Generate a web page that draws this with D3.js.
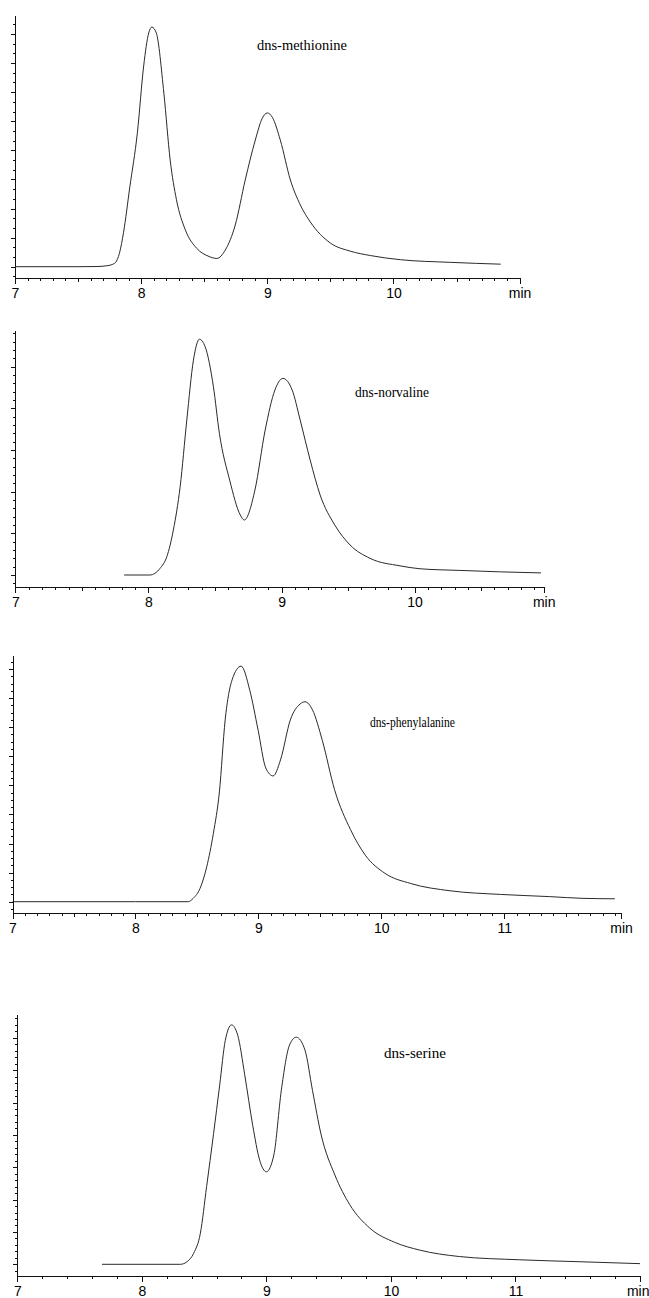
<!DOCTYPE html>
<html>
<head>
<meta charset="utf-8">
<style>
    body { margin: 0; background: #fff; }
    svg { display: block; }
    .axis path, .axis line { stroke: #111; shape-rendering: crispEdges; }
    .axis text { font-family: "Liberation Sans", Arial, sans-serif; font-size: 14px; fill: #000; }
    .trace { fill: none; stroke: #2a2a2a; stroke-width: 1px; }
    .name { font-family: "Liberation Serif", "Times New Roman", serif; font-size: 14px; fill: #000; }
</style>
</head>
<body>
<svg width="649" height="1298"></svg>
<script src="https://d3js.org/d3.v7.min.js"></script>
<script>
// compound names, one per chromatogram
const names = ["dns-methionine", "dns-norvaline", "dns-phenylalanine", "dns-serine"];
// labelled minutes on each time axis, the last tick shows the unit
const xLabels = [[7, 8, 9, 10], [7, 8, 9, 10], [7, 8, 9, 10, 11], [7, 8, 9, 10, 11]];
const unit = "min";

// retention time (min) and detector signal (arbitrary units)
const time1 = [7.0, 7.5, 7.65, 7.73, 7.79, 7.83, 7.86, 7.91, 7.97, 8.02, 8.06, 8.085, 8.12, 8.18, 8.23, 8.28, 8.35, 8.44, 8.53, 8.6, 8.667, 8.746, 8.825, 8.905, 8.96, 9.0, 9.04, 9.103, 9.183, 9.262, 9.341, 9.5, 9.659, 9.817, 10.056, 10.45, 10.85];
const signal1 = [0, 0, 0.02, 0.1, 0.35, 1.5, 3.5, 8.2, 13.8, 20.7, 24.1, 24.7, 24.1, 17.9, 11.0, 6.9, 3.8, 1.9, 1.1, 0.85, 1.72, 4.3, 8.94, 13.06, 15.3, 15.85, 15.4, 13.06, 8.94, 6.36, 4.61, 2.44, 1.6, 1.15, 0.72, 0.45, 0.26];

const time2 = [7.817, 8.01, 8.087, 8.138, 8.187, 8.238, 8.288, 8.338, 8.383, 8.426, 8.488, 8.533, 8.61, 8.69, 8.72, 8.80, 8.877, 8.95, 9.01, 9.08, 9.14, 9.215, 9.29, 9.40, 9.515, 9.665, 9.89, 10.04, 10.34, 10.64, 10.95];
const signal2 = [0, 0, 0.8, 2.2, 5.4, 10.6, 18.6, 25.8, 28.3, 27.4, 22.6, 17.0, 11.4, 7.2, 6.6, 10.2, 17.4, 22.2, 23.6, 22.2, 18.6, 13.8, 9.6, 6.0, 3.6, 2.0, 1.1, 0.75, 0.55, 0.38, 0.25];

const time3 = [7.0, 8.0, 8.43, 8.47, 8.526, 8.58, 8.634, 8.683, 8.73, 8.786, 8.86, 8.93, 8.998, 9.06, 9.12, 9.18, 9.26, 9.34, 9.38, 9.44, 9.52, 9.62, 9.75, 9.87, 10.03, 10.24, 10.56, 10.97, 11.37, 11.64, 11.9];
const signal3 = [0, 0, 0, 0.46, 1.84, 4.8, 9.4, 15.1, 25.0, 30.5, 32.4, 29.1, 23.6, 18.4, 17.3, 19.5, 25.0, 27.2, 27.5, 26.4, 22.2, 15.4, 9.9, 6.4, 3.9, 2.5, 1.5, 1.0, 0.7, 0.46, 0.4];

const time4 = [7.68, 8.31, 8.363, 8.416, 8.47, 8.52, 8.576, 8.625, 8.67, 8.72, 8.77, 8.826, 8.89, 8.946, 9.0, 9.06, 9.12, 9.186, 9.24, 9.31, 9.37, 9.44, 9.55, 9.67, 9.83, 10.03, 10.23, 10.55, 11.03, 11.51, 12.0];
const signal4 = [0, 0, 0.4, 1.7, 4.8, 12.0, 20.2, 27.7, 34.6, 37.0, 35.4, 29.3, 21.5, 16.1, 14.3, 16.9, 26.9, 33.9, 35.1, 33.1, 26.9, 20.0, 13.8, 9.2, 5.6, 3.4, 2.2, 1.2, 0.7, 0.4, 0.1];

const times = [time1, time2, time3, time4];
const signals = [signal1, signal2, signal3, signal4];

// page layout of each panel (pixels)
const layout = [
    { left: 15, right: 519.6, tMax: 11, axisY: 278, top: 15, base: 266.7, px: 9.7, yMajor: 3, xMinor: 0.1, half: true, lx: 257, ly: 50, lw: 90 },
    { left: 15.4, right: 543.7, tMax: 10.97, axisY: 586.7, top: 330, base: 575, px: 8.33, yMajor: 5, xMinor: 0.1, half: true, lx: 355, ly: 397, lw: 74 },
    { left: 12.5, right: 621, tMax: 11.95, axisY: 913, top: 655, base: 901.7, px: 7.27, yMajor: 4, xMinor: 0.1, half: true, lx: 370, ly: 727, lw: 85 },
    { left: 17.3, right: 640, tMax: 12, axisY: 1276, top: 1014, base: 1264.3, px: 6.47, yMajor: 5, xMinor: 0.2, half: false, lx: 384, ly: 1058, lw: 62 }
];

const svg = d3.select("svg");

layout.forEach(function (L, i) {
    let g = svg.append("g");

    let x = d3.scaleLinear().domain([7, L.tMax]).range([L.left, L.right]);
    let lo = -(L.axisY - L.base) / L.px;
    let hi = (L.base - L.top) / L.px;
    let y = d3.scaleLinear().domain([lo, hi]).range([L.axisY, L.top]);

    // x axis: minor, half and labelled ticks
    let minor = d3.range(7, L.tMax - 0.01, L.xMinor).map(v => +v.toFixed(2));
    g.append("g").attr("class", "axis")
        .attr("transform", `translate(0,${L.axisY})`)
        .call(d3.axisBottom(x).tickValues(minor).tickSize(3).tickSizeOuter(0).tickFormat(""));
    if (L.half) {
        g.append("g").attr("class", "axis")
            .attr("transform", `translate(0,${L.axisY})`)
            .call(d3.axisBottom(x).tickValues(xLabels[i].map(v => v + 0.5).filter(v => v < L.tMax)).tickSize(4).tickSizeOuter(0).tickFormat(""))
            .select(".domain").remove();
    }
    let major = xLabels[i].concat([L.tMax]);
    let xa = g.append("g").attr("class", "axis")
        .attr("transform", `translate(0,${L.axisY})`)
        .call(d3.axisBottom(x).tickValues(major).tickSize(6).tickSizeOuter(0).tickPadding(4)
            .tickFormat(d => d === L.tMax ? unit : d));
    xa.select(".domain").remove();
    // keep the unit label inside the page
    xa.selectAll(".tick text")
        .filter(d => d === L.tMax && x(d) + 12 > 649)
        .attr("text-anchor", "end")
        .attr("x", 649 - x(L.tMax));

    // y axis with unlabelled ticks
    let yt = d3.range(Math.ceil(lo), Math.floor(hi) + 1);
    g.append("g").attr("class", "axis")
        .attr("transform", `translate(${L.left},0)`)
        .call(d3.axisLeft(y).tickValues(yt.filter(v => v % L.yMajor !== 0)).tickSize(2).tickSizeOuter(0).tickFormat(""));
    g.append("g").attr("class", "axis")
        .attr("transform", `translate(${L.left},0)`)
        .call(d3.axisLeft(y).tickValues(yt.filter(v => v % L.yMajor === 0)).tickSize(4).tickSizeOuter(0).tickFormat(""))
        .select(".domain").remove();

    // the trace
    let pts = times[i].map((t, k) => [t, signals[i][k]]);
    let line = d3.line()
        .x(d => x(d[0]))
        .y(d => y(d[1]))
        .curve(d3.curveMonotoneX);
    g.append("path").attr("class", "trace").attr("d", line(pts));

    g.append("text").attr("class", "name")
        .attr("x", L.lx).attr("y", L.ly)
        .attr("textLength", L.lw).attr("lengthAdjust", "spacingAndGlyphs")
        .text(names[i]);
});
</script>
</body>
</html>
